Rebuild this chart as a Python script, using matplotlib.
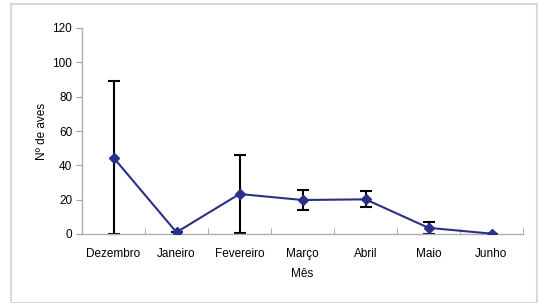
import matplotlib
matplotlib.use("Agg")
import matplotlib.pyplot as plt
from matplotlib.patches import Rectangle

meses = ["Dezembro", "Janeiro", "Fevereiro", "Março", "Abril", "Maio", "Junho"]
aves = [44.5, 1.0, 23.3, 19.8, 20.2, 3.6, 0.2]
erro = [44.5, 0.0, 22.5, 6.0, 4.6, 3.5, 0.0]
yticks = [0, 20, 40, 60, 80, 100, 120]

plt.rcParams['font.family'] = ['Liberation Sans', 'DejaVu Sans']

W, H = 539, 303
fig = plt.figure(figsize=(W / 100, H / 100), dpi=100)
fig.patch.set_facecolor("white")
fig.patches.append(Rectangle((11 / W, 0.0), (537 - 11) / W, (H - 4) / H,
                             transform=fig.transFigure, fill=False,
                             edgecolor="#d9d9d9", linewidth=1.5))

ax = fig.add_axes([82 / W, 1 - 234 / H, (523 - 82) / W, (234 - 28) / H])
x = list(range(len(meses)))
ax.errorbar(x, aves, yerr=erro, fmt="none", ecolor="black", elinewidth=1.5,
            capsize=4, capthick=1.5, zorder=2)
ax.plot(x, aves, color="#2b2f8a", linewidth=1.5, marker="D", markersize=5,
        markerfacecolor="#2b2f8a", markeredgecolor="#2b2f8a", zorder=3)

ax.set_xlim(-0.5, len(meses) - 0.5)
ax.set_ylim(0, 120)
ax.set_yticks(yticks)
ax.set_xticks(x)
ax.set_xticklabels(meses, fontsize=8.5)
ax.set_xticks([i - 0.5 for i in range(len(meses) + 1)], minor=True)
ax.tick_params(axis="x", which="major", length=0, pad=10)
ax.tick_params(axis="x", which="minor", length=4, color="#a0a0a0", direction="in")
ax.tick_params(axis="y", length=4, color="#a0a0a0", labelsize=8.5, pad=3)
for s in ["top", "right"]:
    ax.spines[s].set_visible(False)
for s in ["left", "bottom"]:
    ax.spines[s].set_color("#b0b0b0")
    ax.spines[s].set_linewidth(1.0)

ax.set_xlabel("Mês", fontsize=8.5, labelpad=6)
ax.set_ylabel("Nº de aves", fontsize=8.5, labelpad=3)

fig.savefig("out.png", dpi=100)
